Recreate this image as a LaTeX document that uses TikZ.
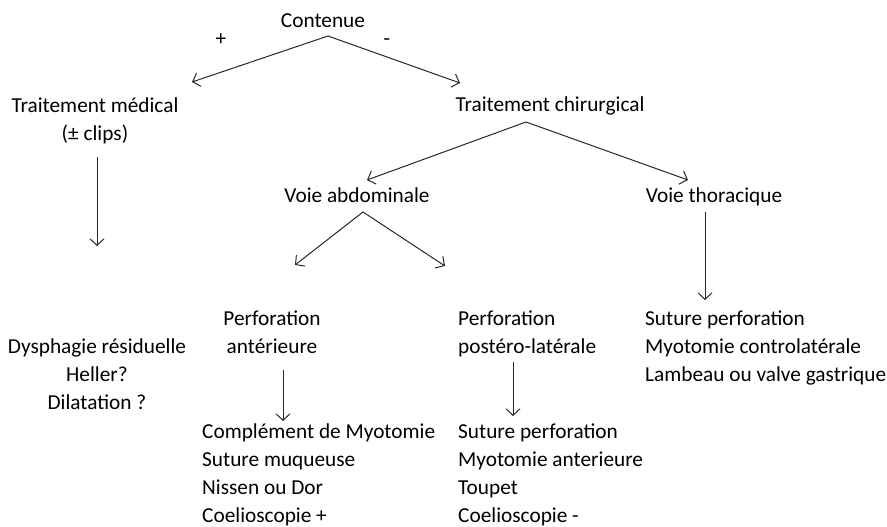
\documentclass[tikz,border=0pt]{standalone}
\usepackage{fontspec}
\setmainfont{Carlito}
\usetikzlibrary{arrows.meta}
\begin{document}
\begin{tikzpicture}[x=1pt,y=-1pt,
  lbl/.style={inner sep=0pt, anchor=base, font=\fontsize{21.3}{28}\selectfont},
  lblw/.style={inner sep=0pt, anchor=base west, align=left, font=\fontsize{21.3}{28}\selectfont},
  arr/.style={draw=black!85, line width=1pt, -{Straight Barb[length=6.5pt,width=14pt]}}]
\useasboundingbox (0,0) rectangle (887,527);
\node[lbl] (contenue) at (323,28) {Contenue};
\node[lbl] (plus) at (221,46) {+};
\node[lbl] (minus) at (387,46) {-};
\node[lbl, align=center] (med) at (95,140) {Traitement médical\\(± clips)};
\node[lbl] (chir) at (550,112) {Traitement chirurgical};
\node[lbl] (abd) at (357,202) {Voie abdominale};
\node[lbl] (thor) at (714,202) {Voie thoracique};
\node[lbl, align=center] (dys) at (97,409) {Dysphagie résiduelle\\Heller?\\Dilatation ?};
\node[lbl, align=center] (ant) at (272,353) {Perforation\\antérieure};
\node[lblw] (post) at (458,353) {Perforation\\postéro-latérale};
\node[lblw] (thorlist) at (645,381) {Suture perforation\\Myotomie controlatérale\\Lambeau ou valve gastrique};
\node[lblw] (antlist) at (202,522) {Complément de Myotomie\\Suture muqueuse\\Nissen ou Dor\\Coelioscopie +};
\node[lblw] (postlist) at (458,522) {Suture perforation\\Myotomie anterieure\\Toupet\\Coelioscopie -};
\draw[arr] ([shift={(5,8)}]contenue.base) -- ([shift={(97,-58)}]med.base);
\draw[arr] ([shift={(5,8)}]contenue.base) -- ([shift={(-90,-29)}]chir.base);
\draw[arr] ([shift={(2,17)}]med.base) -- ([shift={(0,-163)}]dys.base);
\draw[arr] ([shift={(-24,10)}]chir.base) -- ([shift={(10,-22)}]abd.base);
\draw[arr] ([shift={(-24,10)}]chir.base) -- ([shift={(-26,-22)}]thor.base);
\draw[arr] ([shift={(6,10)}]abd.base) -- ([shift={(23,-88)}]ant.base);
\draw[arr] ([shift={(6,10)}]abd.base) -- ([shift={(-13,-87)}]post.base west);
\draw[arr] ([shift={(-9,10)}]thor.base) -- ([shift={(60,-81)}]thorlist.base west);
\draw[arr] ([shift={(11,17)}]ant.base) -- ([shift={(81,-101)}]antlist.base west);
\draw[arr] ([shift={(55,9)}]post.base west) -- ([shift={(55,-106)}]postlist.base west);
\end{tikzpicture}
\end{document}
